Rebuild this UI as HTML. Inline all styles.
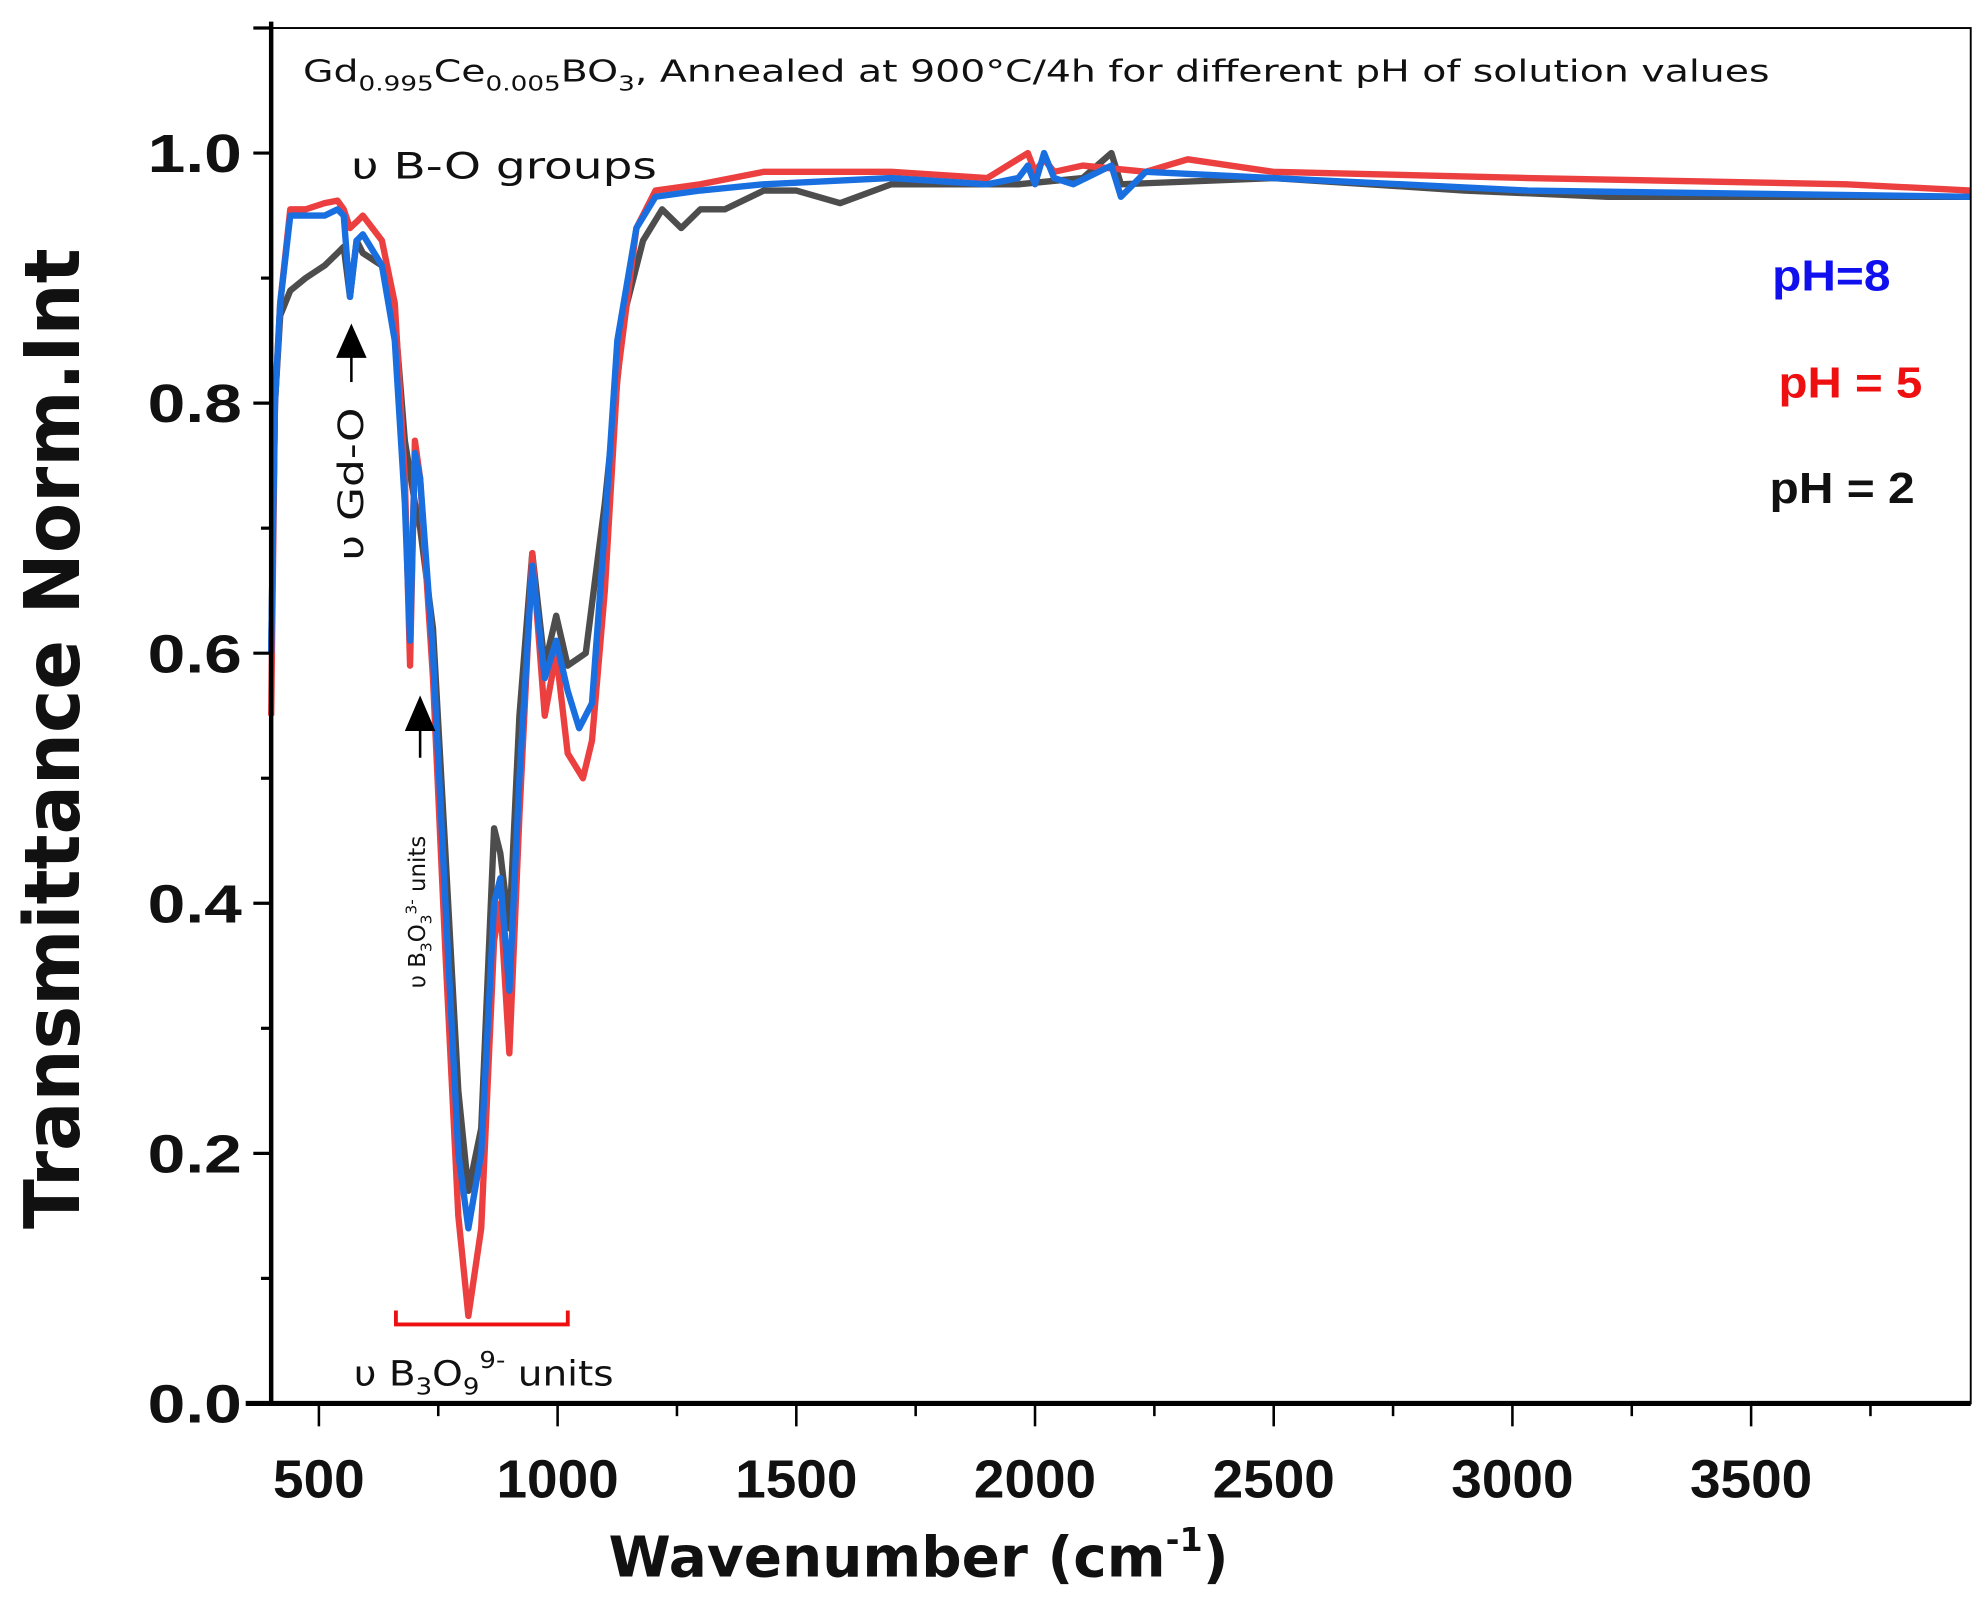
<!DOCTYPE html>
<html><head><meta charset="utf-8"><style>
html,body{margin:0;padding:0;background:#fff;}
svg{display:block;font-family:"Liberation Sans",sans-serif;}
.dv{font-family:"DejaVu Sans","Liberation Sans",sans-serif;}
</style></head><body>
<svg id="chart" width="1986" height="1597" viewBox="0 0 1560 1254" preserveAspectRatio="none" xmlns="http://www.w3.org/2000/svg">
<rect x="0" y="0" width="1560" height="1254" fill="#fff"/>
<g id="plot"></g>
<g id="axes"></g>
<text class="dv" x="238" y="64" font-size="24" fill="#111" textLength="1152" lengthAdjust="spacingAndGlyphs">Gd<tspan font-size="16" dy="7">0.995</tspan><tspan dy="-7">Ce</tspan><tspan font-size="16" dy="7">0.005</tspan><tspan dy="-7">BO</tspan><tspan font-size="16" dy="7">3</tspan><tspan dy="-7">, Annealed at 900°C/4h for different pH of solution values</tspan></text>
<text class="dv" transform="translate(62,580) rotate(-90)" text-anchor="middle" font-size="60" font-weight="bold" fill="#111" textLength="770" lengthAdjust="spacingAndGlyphs">Transmittance  Norm.Int</text>
<text class="dv" x="478" y="1238" font-size="44" font-weight="bold" fill="#111" textLength="487" lengthAdjust="spacingAndGlyphs">Wavenumber (cm<tspan font-size="26" dy="-20">-1</tspan><tspan dy="20">)</tspan></text>
<text x="1392" y="228" font-size="34" font-weight="bold" fill="#1010ee" textLength="93" lengthAdjust="spacingAndGlyphs">pH=8</text>
<text x="1397" y="312" font-size="34" font-weight="bold" fill="#ee1010" textLength="113" lengthAdjust="spacingAndGlyphs">pH = 5</text>
<text x="1390" y="395" font-size="34" font-weight="bold" fill="#111" textLength="114" lengthAdjust="spacingAndGlyphs">pH = 2</text>
<text class="dv" x="276" y="140" font-size="29" fill="#111" textLength="240" lengthAdjust="spacingAndGlyphs">υ B-O groups</text>
<g>
<line x1="276" y1="300" x2="276" y2="275" stroke="#000" stroke-width="2"/>
<polygon points="264,281 288,281 276,254" fill="#000"/>
<text class="dv" transform="translate(285,440) rotate(-90)" font-size="27" fill="#111" textLength="120" lengthAdjust="spacingAndGlyphs">υ Gd-O</text>
</g>
<g>
<line x1="330" y1="595" x2="330" y2="570" stroke="#000" stroke-width="2"/>
<polygon points="318,574 342,574 330,546" fill="#000"/>
<text class="dv" transform="translate(334,776) rotate(-90)" font-size="18" fill="#111">υ B<tspan font-size="12" dy="5">3</tspan><tspan dy="-5">O</tspan><tspan font-size="12" dy="5">3</tspan><tspan font-size="12" dy="-12">3-</tspan><tspan dy="7"> units</tspan></text>
</g>
<g>
<polyline points="311,1029 311,1040 446,1040 446,1029" fill="none" stroke="#ee1010" stroke-width="3"/>
</g>
<text class="dv" x="278" y="1088" font-size="27" fill="#111" textLength="204" lengthAdjust="spacingAndGlyphs">υ B<tspan font-size="18" dy="7">3</tspan><tspan dy="-7">O</tspan><tspan font-size="18" dy="7">9</tspan><tspan font-size="18" dy="-21">9-</tspan><tspan dy="14"> units</tspan></text>
</svg>
<script>
const xTicks=[500,1000,1500,2000,2500,3000,3500];
const xMinor=[750,1250,1750,2250,2750,3250,3750];
const yTicks=[0,0.2,0.4,0.6,0.8,1.0];
const yTickLabels=["0.0","0.2","0.4","0.6","0.8","1.0"];
const yMinor=[0.1,0.3,0.5,0.7,0.9];
const blueW=[400,408,419,440,472,512,539,552,565,579,592,632,659,680,691,701,712,739,765,792,813,840,867,880,899,920,947,973,997,1021,1045,1072,1099,1125,1165,1205,1299,1432,1699,1900,1965,1985,2000,2019,2040,2080,2160,2180,2232,2499,3032,3960];
const blueY=[0.6,0.8,0.88,0.95,0.95,0.95,0.955,0.95,0.885,0.93,0.935,0.91,0.85,0.72,0.61,0.76,0.74,0.6,0.4,0.2,0.14,0.2,0.4,0.42,0.33,0.5,0.67,0.58,0.61,0.57,0.54,0.56,0.7,0.85,0.94,0.965,0.97,0.975,0.98,0.975,0.98,0.99,0.975,1.0,0.98,0.975,0.99,0.965,0.985,0.98,0.97,0.965];
const redW=[400,408,419,440,472,512,539,552,565,579,592,632,659,680,691,701,712,739,765,792,813,840,867,880,899,920,947,973,997,1021,1053,1072,1099,1125,1165,1205,1299,1432,1699,1900,1985,2000,2019,2040,2100,2232,2320,2499,3032,3700,3960];
const redY=[0.55,0.8,0.88,0.955,0.955,0.96,0.962,0.955,0.94,0.945,0.95,0.93,0.88,0.74,0.59,0.77,0.74,0.58,0.36,0.15,0.07,0.14,0.37,0.4,0.28,0.47,0.68,0.55,0.6,0.52,0.5,0.53,0.65,0.82,0.94,0.97,0.975,0.985,0.985,0.98,1.0,0.985,0.995,0.985,0.99,0.985,0.995,0.985,0.98,0.975,0.97];
const blackW=[400,408,419,440,472,512,539,552,565,579,592,632,659,680,701,712,739,765,792,813,840,867,880,899,920,947,973,997,1021,1059,1099,1139,1179,1219,1259,1299,1350,1432,1500,1592,1699,1965,2100,2160,2180,2499,2900,3200,3500,3960];
const blackY=[0.6,0.8,0.87,0.89,0.9,0.91,0.92,0.925,0.885,0.93,0.92,0.91,0.87,0.77,0.72,0.7,0.62,0.44,0.25,0.17,0.22,0.46,0.44,0.38,0.55,0.68,0.59,0.63,0.59,0.6,0.72,0.87,0.93,0.955,0.94,0.955,0.955,0.97,0.97,0.96,0.975,0.975,0.98,1.0,0.975,0.98,0.97,0.965,0.965,0.965];
const L=213,R=1548,T=22,B=1102,XMIN=400,XMAX=3960,YMIN=0,YMAX=1.1;
function sx(w){return L+(w-XMIN)/(XMAX-XMIN)*(R-L);}
function sy(v){return B-(v-YMIN)/(YMAX-YMIN)*(B-T);}
const NS="http://www.w3.org/2000/svg";
const plot=document.getElementById('plot'),axes=document.getElementById('axes');
function mk(tag,attrs,parent){const e=document.createElementNS(NS,tag);for(const k in attrs)e.setAttribute(k,attrs[k]);parent.appendChild(e);return e;}
function series(ws,ys,color,name){
  const d=ws.map((w,i)=>(i?'L':'M')+sx(w).toFixed(1)+','+sy(ys[i]).toFixed(1)).join(' ');
  const p=mk('path',{d:d,fill:'none',stroke:color,'stroke-width':5,'stroke-linejoin':'round'},plot);
  
  
}
series(blackW,blackY,'#4d4d4d','series-ph2');
series(redW,redY,'#ec4040','series-ph5');
series(blueW,blueY,'#1a6fe0','series-ph8');
const frame=mk('rect',{x:L,y:T,width:R-L,height:B-T,fill:'none',stroke:'#000','stroke-width':1.5},axes);


const ya=mk('line',{x1:L,y1:T-5,x2:L,y2:B,stroke:'#000','stroke-width':3.5},axes);


const xa=mk('line',{x1:L-20,y1:B,x2:R,y2:B,stroke:'#000','stroke-width':4},axes);


xTicks.forEach(t=>{
  mk('line',{x1:sx(t),y1:B,x2:sx(t),y2:B+18,stroke:'#000','stroke-width':2},axes);
  const s=String(t);
  const tx=mk('text',{x:sx(t),y:B+74,'text-anchor':'middle','font-size':42,'font-weight':'bold',fill:'#111',textLength:s.length*24,lengthAdjust:'spacingAndGlyphs'},axes);
  tx.textContent=t;
  
  
});
xMinor.forEach(t=>{mk('line',{x1:sx(t),y1:B,x2:sx(t),y2:B+10,stroke:'#000','stroke-width':2},axes);});
yTicks.forEach((t,i)=>{
  mk('line',{x1:L-14,y1:sy(t),x2:L,y2:sy(t),stroke:'#000','stroke-width':2.5},axes);
  const tx=mk('text',{x:L-23,y:sy(t)+15,'text-anchor':'end','font-size':42,'font-weight':'bold',fill:'#111',textLength:74,lengthAdjust:'spacingAndGlyphs'},axes);
  tx.textContent=yTickLabels[i];
  
  
});
yMinor.forEach(t=>{mk('line',{x1:L-8,y1:sy(t),x2:L,y2:sy(t),stroke:'#000','stroke-width':2.5},axes);});
mk('line',{x1:L-14,y1:T,x2:L,y2:T,stroke:'#000','stroke-width':2.5},axes);
</script>
</body></html>
